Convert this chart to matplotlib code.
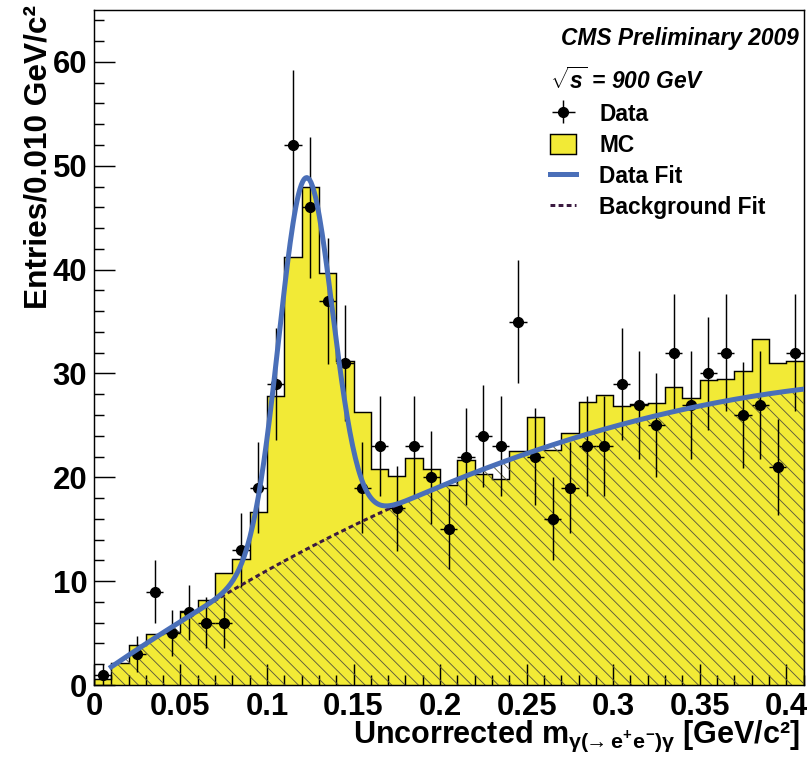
import numpy as np
import matplotlib
matplotlib.use('Agg')
import matplotlib.pyplot as plt
from matplotlib.patches import Patch
from matplotlib.lines import Line2D
from matplotlib.ticker import MultipleLocator, FuncFormatter

# binning of the mass histogram (0.010 GeV/c^2 bins)
bin_edges = np.linspace(0.0, 0.41, 42)

# data counts per bin
data_counts = [1, 0, 3, 9, 5, 7, 6, 6, 13, 19,
               29, 52, 46, 37, 31, 19, 23, 17, 23, 20,
               15, 22, 24, 23, 35, 22, 16, 19, 23, 23,
               29, 27, 25, 32, 27, 30, 32, 26, 27, 21,
               32]

# MC expectation per bin
mc_counts = [0.6, 2.1, 3.9, 4.9, 5.1, 7.1, 8.2, 10.8, 12.1, 16.7,
             27.8, 41.2, 48.0, 39.7, 31.2, 26.3, 20.8, 20.1, 21.9, 20.8,
             19.3, 21.7, 20.3, 19.8, 22.5, 25.8, 22.6, 24.3, 27.3, 27.9,
             26.9, 27.1, 27.2, 28.7, 27.6, 29.4, 29.5, 30.2, 33.3, 31.0,
             31.2]

# fit results: background = p0 + p1*m + p2*m^2, signal = gaussian
bkg_pars = [0.6, 116.0, -117.0]
sig_amp = 35.8
sig_mean = 0.1223
sig_sigma = 0.0155
fit_range = [0.01, 0.41]

legend_labels = ['Data', 'MC', 'Data Fit', 'Background Fit']

yellow = '#f2ea36'
blue = '#4a6fb8'
purple = '#3b1a40'


def fondo(m):
    return bkg_pars[0] + bkg_pars[1] * m + bkg_pars[2] * m ** 2


def sinal(m):
    return sig_amp * np.exp(-0.5 * ((m - sig_mean) / sig_sigma) ** 2)


plt.rcParams['font.family'] = ['Liberation Sans', 'DejaVu Sans']
plt.rcParams['font.weight'] = 'bold'
plt.rcParams['axes.labelweight'] = 'bold'
plt.rcParams['mathtext.fontset'] = 'custom'
plt.rcParams['mathtext.rm'] = 'Liberation Sans'
plt.rcParams['mathtext.it'] = 'Liberation Sans'
plt.rcParams['mathtext.bf'] = 'Liberation Sans:bold'
plt.rcParams['mathtext.bfit'] = 'Liberation Sans:italic:bold'
plt.rcParams['hatch.linewidth'] = 0.8

fig = plt.figure(figsize=(810 / 80, 763 / 80), dpi=80)
ax = fig.add_axes([0.116, 0.1022, 0.876, 0.8847])

edges = np.array(bin_edges)
centros = 0.5 * (edges[:-1] + edges[1:])
meia = 0.5 * (edges[1] - edges[0])
dados = np.array(data_counts, dtype=float)

# MC histogram
ax.stairs(mc_counts, edges, fill=True, facecolor=yellow, edgecolor='black',
          linewidth=1.3, zorder=1)

m = np.linspace(fit_range[0], fit_range[1], 500)

# hatched background region
ax.fill_between(m, 0, fondo(m), facecolor='none', edgecolor='#5c5a3c',
                hatch='\\\\', linewidth=0, zorder=2)

# data points
ok = dados > 0
pontos = ax.errorbar(centros[ok], dados[ok], xerr=meia, yerr=np.sqrt(dados[ok]),
                     fmt='o', color='black', ms=9, elinewidth=1.3, capsize=0,
                     zorder=4)

# fits
ax.plot(m, fondo(m), color=purple, lw=2.7, dashes=(1.6, 1.1), zorder=5)
ax.plot(m, fondo(m) + sinal(m), color=blue, lw=4.5, zorder=6)

ax.set_xlim(0, 0.41)
ax.set_ylim(0, 65)

ax.xaxis.set_major_locator(MultipleLocator(0.05))
ax.xaxis.set_minor_locator(MultipleLocator(0.01))
ax.yaxis.set_major_locator(MultipleLocator(10))
ax.yaxis.set_minor_locator(MultipleLocator(2))
ax.xaxis.set_major_formatter(FuncFormatter(lambda v, p: '%g' % round(v, 3)))
ax.yaxis.set_major_formatter(FuncFormatter(lambda v, p: '%g' % v))
ax.tick_params(which='both', direction='in', top=False, right=False,
               width=1.3, labelsize=28, pad=6)
ax.tick_params(which='major', length=19)
ax.tick_params(which='minor', length=9)
for s in ax.spines.values():
    s.set_linewidth(1.3)

ax.set_ylabel('Entries/0.010 GeV/c\u00b2', fontsize=28.5, fontweight='bold', loc='top')
ax.yaxis.set_label_coords(-0.057, 1.007)
ax.set_xlabel(r'Uncorrected m$_{\gamma(\!\!\rightarrow e^{+}e^{-})\gamma}$ [GeV/c' + '\u00b2]',
              fontsize=27.5, fontweight='bold', loc='right')
ax.xaxis.set_label_coords(0.995, -0.05)

ax.text(0.993, 0.958, 'CMS Preliminary 2009', transform=ax.transAxes,
        ha='right', va='center', fontsize=20.5, style='italic', weight='bold')
ax.text(0.6428, 0.895, r'$\sqrt{\mathbfit{s}}$ = 900 GeV', transform=ax.transAxes,
        ha='left', va='center', fontsize=20.5, style='italic', weight='bold')

handles = [pontos,
           Patch(facecolor=yellow, edgecolor='black', linewidth=1.3),
           Line2D([], [], color=blue, lw=4.5),
           Line2D([], [], color=purple, lw=2.7, dashes=(1.6, 1.1))]
ax.legend(handles, legend_labels, loc='upper left', bbox_to_anchor=(0.643, 0.8625),
          frameon=False, fontsize=20.5, handlelength=1.15, handleheight=1.0,
          handletextpad=1.0, labelspacing=0.36, borderpad=0, borderaxespad=0)

plt.savefig('out.png', dpi=80)
